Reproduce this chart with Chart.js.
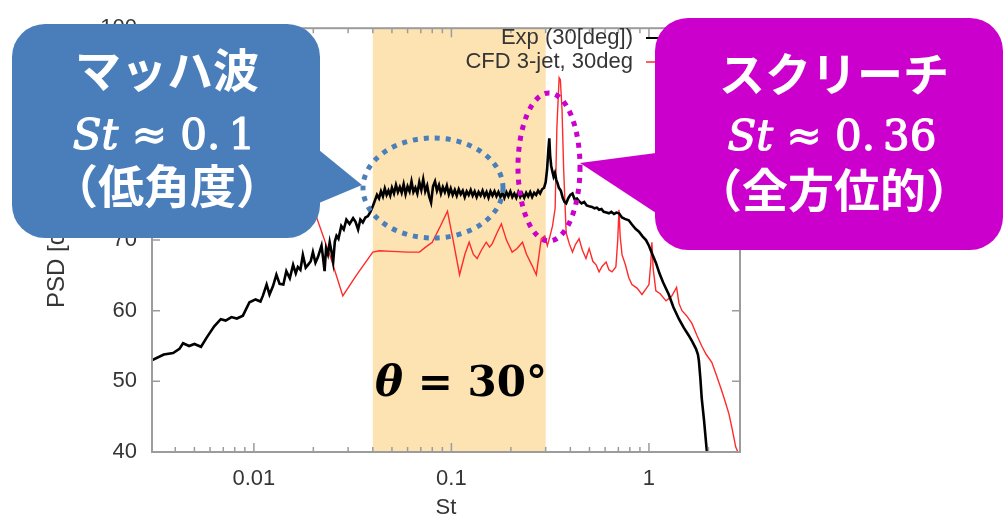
<!DOCTYPE html>
<html><head><meta charset="utf-8">
<script src="https://cdn.jsdelivr.net/npm/chart.js@4.4.1/dist/chart.umd.min.js"></script>
<style>html,body{margin:0;padding:0;background:#fff;}canvas{display:block;}</style>
</head><body>
<canvas id="c" width="1004" height="521"></canvas>
<script>
// ---- data ----
const SERIES_LABELS = ['Exp (30[deg])', 'CFD 3-jet, 30deg'];
const EXP_ST = [0.00306,0.0035,0.0039,0.0042,0.00438,0.0047,0.0050,0.0054,0.0058,0.0063,0.0068,0.0072,0.0077,0.0082,0.0088,0.0095,0.0102,0.0108,0.0111,0.0116,0.0120,0.0125,0.0130,0.0135,0.0141,0.0146,0.0152,0.0158,0.0163,0.0167,0.0172,0.0177,0.0183,0.0188,0.0194,0.0199,0.0205,0.0211,0.0216,0.0220,0.0224,0.0228,0.0232,0.0237,0.0242,0.0247,0.0252,0.0257,0.0262,0.0268,0.0277,0.0285,0.0294,0.0305,0.0318,0.0327,0.0337,0.0346,0.0356,0.0367,0.0378,0.0389,0.0400,
0.0410,0.0420,0.0430,0.0440,0.0450,0.0460,0.0470,0.0480,0.0490,0.0500,0.0512,0.0524,0.0536,0.0548,0.0560,0.0573,0.0586,0.0600,0.0614,0.0628,0.0642,0.0657,0.0672,0.0688,0.0704,0.0720,0.0737,0.0754,0.0771,0.0789,0.0807,0.0826,0.0845,0.0865,0.0885,0.0905,0.0926,0.0948,0.0970,0.0992,0.1015,0.1040,0.1064,0.1089,0.1115,0.1141,0.1168,0.1195,0.1223,0.1252,0.1281,0.1311,0.1342,0.1373,0.1405,0.1438,0.1472,0.1506,0.1541,0.1577,0.1614,0.1652,0.1691,0.1730,0.1771,0.1812,0.1854,0.1898,0.1942,0.1988,0.2034,0.2082,0.2130,0.2180,0.2231,0.2283,0.2337,0.2391,0.2447,0.2505,0.2563,0.2623,0.2685,0.2748,0.2812,0.2878,0.2945,0.3000,
0.3050,0.3100,0.3130,0.3160,0.3200,0.3240,0.3290,0.3340,0.3390,0.3450,0.3500,0.3580,0.3660,0.3740,0.3810,0.3900,0.4000,0.4100,0.4200,0.4320,0.4430,0.4560,0.4700,0.4840,0.4980,0.5150,0.5300,0.5450,0.5590,0.5750,0.5900,0.6100,0.6270,0.6450,0.6650,0.6850,0.7050,0.7300,0.7550,0.7900,0.8200,0.8550,0.8900,0.9300,0.9660,1.0000,1.0400,1.0840,1.1300,1.1800,1.2600,1.3300,1.4200,1.5000,1.5900,1.6600,1.7300,1.7700,1.7900,1.8200,1.8500,1.9000,1.9600,1.9700];
const EXP_PSD = [53.0,53.8,54.0,54.6,55.4,55.0,55.3,54.9,56.3,57.8,58.8,58.6,59.1,58.9,59.3,61.2,61.6,61.3,62.1,63.7,62.3,63.5,65.1,63.8,63.7,65.6,64.6,66.5,65.3,66.2,65.8,67.9,66.1,66.5,67.0,68.3,66.8,67.6,68.5,69.2,67.5,65.6,68.8,68.0,69.7,68.4,66.9,69.8,70.6,70.2,72.0,71.5,72.9,72.3,73.1,72.6,71.5,72.9,72.5,73.2,73.4,74.0,74.8,
75.6,76.4,75.9,76.9,76.2,77.3,76.4,77.0,76.3,77.4,76.6,77.8,76.8,77.5,76.7,77.9,76.5,77.6,76.9,78.3,76.8,77.4,76.6,78.2,77.1,78.6,76.9,77.7,76.2,75.3,77.6,78.3,77.0,77.8,76.6,77.5,76.8,77.7,76.5,77.3,76.4,77.1,76.3,77.2,76.5,77.0,76.1,76.9,76.4,77.1,76.3,76.9,76.1,76.8,76.3,77.0,76.2,76.8,76.0,76.9,76.3,76.9,76.2,76.8,76.1,76.7,76.0,76.8,76.2,76.9,76.1,76.6,76.0,76.8,76.1,76.6,76.0,76.7,76.2,76.8,76.1,76.7,76.4,77.0,76.6,77.2,77.4,78.2,
80.0,83.0,84.4,82.0,80.5,79.8,79.0,79.5,78.6,78.0,77.4,77.0,76.0,75.4,75.2,75.9,76.4,76.6,75.8,75.9,75.5,75.2,75.4,74.9,74.8,74.7,74.5,74.6,74.3,74.4,74.0,73.9,73.8,74.0,73.7,73.9,73.8,73.2,73.0,72.8,72.2,71.6,71.2,70.5,70.0,69.2,68.0,66.8,65.3,64.0,62.3,60.5,58.8,57.6,56.5,55.6,54.6,53.8,52.9,50.5,47.6,44.5,40.3,40.0];
const CFD_ST = [0.0206,0.0245,0.0282,0.0330,0.0400,0.0433,0.0500,0.0600,0.0689,0.0740,0.0800,0.0880,0.0955,0.1020,0.1100,0.1170,0.1230,0.1290,0.1350,0.1420,0.1500,0.1560,0.1610,0.1700,0.1790,0.1900,0.2030,0.2150,0.2290,0.2400,0.2550,0.2690,0.2850,0.2970,0.3060,0.3150,0.3250,0.3350,0.3420,0.3510,0.3560,0.3630,0.3700,0.3810,0.3950,0.4100,0.4250,0.4430,0.4600,0.4800,0.4980,0.5200,0.5400,0.5590,0.5800,0.6070,0.6270,0.6500,0.6800,0.6950,0.7050,0.7150,0.7310,0.7600,0.7900,0.8200,0.8700,0.9220,0.9600,1.0000,1.0200,1.0350,1.0500,1.0840,1.1400,1.2200,1.3000,1.3800,1.4200,1.4700,1.5500,1.6500,1.7500,1.8500,1.9500,2.0800,2.2000,2.3400,2.4400,2.5400,2.6500,2.7500,2.8200];
const CFD_PSD = [73.5,67.5,62.1,65.0,68.3,68.5,68.4,68.3,68.3,69.0,69.7,72.0,74.1,70.0,65.1,68.0,69.7,68.0,67.4,68.6,69.7,69.0,69.5,71.0,72.3,70.0,68.3,68.8,69.7,68.0,66.5,65.1,70.2,70.6,69.2,70.5,72.0,74.5,86.0,93.0,92.7,88.5,80.0,71.0,69.5,68.3,69.4,70.2,68.6,67.4,68.8,67.0,66.5,65.5,66.3,66.9,65.8,65.5,66.2,70.0,74.3,70.5,67.9,66.5,64.7,63.7,63.2,62.3,63.0,63.7,66.5,69.7,66.0,62.8,62.4,61.4,62.0,63.3,61.0,60.0,59.3,58.2,56.5,55.0,53.8,52.7,50.8,48.6,47.0,45.4,43.0,40.7,40.0];
const X_LABEL_TICKS = [0.01, 0.1, 1];
const Y_TICKS = [40, 50, 60, 70, 80, 90, 100];
const BAND = [0.04, 0.3];

const AX_FONT = "'Liberation Sans', Arial, sans-serif";
const TXT = '#353535';
const FRAME = '#9c9c9c';

const pairs = (xs, ys) => xs.map((x, i) => ({x, y: ys[i]}));

const bandPlugin = {
  id: 'band',
  beforeDatasetsDraw(chart) {
    const {ctx, chartArea: a, scales: {x}} = chart;
    const x0 = x.getPixelForValue(BAND[0]), x1 = x.getPixelForValue(BAND[1]);
    ctx.save();
    ctx.fillStyle = 'rgb(253,227,178)';
    ctx.fillRect(x0, a.top, x1 - x0, a.bottom - a.top);
    ctx.restore();
  }
};

const framePlugin = {
  id: 'frame',
  afterDatasetsDraw(chart) {
    const {ctx, chartArea: a, scales: {x, y}} = chart;
    ctx.save();
    ctx.strokeStyle = FRAME;
    ctx.lineWidth = 2;
    ctx.strokeRect(a.left, a.top, a.right - a.left, a.bottom - a.top);
    ctx.lineWidth = 1.5;
    ctx.beginPath();
    Y_TICKS.forEach(v => {
      const py = y.getPixelForValue(v);
      ctx.moveTo(a.left, py); ctx.lineTo(a.left + 8, py);
      ctx.moveTo(a.right, py); ctx.lineTo(a.right - 8, py);
    });
    for (let e = -3; e <= 0; e++) {
      for (let k = 1; k <= 9; k++) {
        const v = k * Math.pow(10, e);
        if (v < x.min || v > x.max) continue;
        const px = x.getPixelForValue(v);
        const len = k === 1 ? 9 : 5;
        ctx.moveTo(px, a.bottom); ctx.lineTo(px, a.bottom - len);
        ctx.moveTo(px, a.top); ctx.lineTo(px, a.top + len);
      }
    }
    ctx.stroke();
    // legend
    ctx.font = '22px ' + AX_FONT;
    ctx.fillStyle = TXT;
    ctx.textAlign = 'right';
    ctx.textBaseline = 'middle';
    const ds = chart.data.datasets;
    [38, 62].forEach((ly, i) => {
      ctx.fillText(ds[i].label, 633, ly);
      ctx.strokeStyle = ds[i].borderColor;
      ctx.lineWidth = i === 0 ? 2 : 1.5;
      ctx.beginPath(); ctx.moveTo(646, ly); ctx.lineTo(700, ly); ctx.stroke();
    });
    // y title
    ctx.save();
    ctx.translate(57, 308);
    ctx.rotate(-Math.PI / 2);
    ctx.textAlign = 'left';
    ctx.font = '24px ' + AX_FONT;
    ctx.fillText('PSD [dB/St]', 0, 0);
    ctx.restore();
    ctx.restore();
  }
};

function roundCallout(ctx, l, t, r, b, rad, tri, color) {
  ctx.fillStyle = color;
  ctx.beginPath();
  ctx.roundRect(l, t, r - l, b - t, rad);
  ctx.fill();
  ctx.beginPath();
  ctx.moveTo(tri[0][0], tri[0][1]);
  ctx.lineTo(tri[1][0], tri[1][1]);
  ctx.lineTo(tri[2][0], tri[2][1]);
  ctx.closePath();
  ctx.fill();
}

function drawMath(ctx, cx, cy, segs, size, thick) {
  const fam = "'DejaVu Serif', serif";
  let total = 0;
  segs.forEach(s => {
    ctx.font = (s.it ? 'italic ' : '') + (s.b ? 'bold ' : '') + size + 'px ' + fam;
    s.w = ctx.measureText(s.t).width;
    total += s.w + (s.gap || 0);
  });
  let x = cx - total / 2;
  ctx.textAlign = 'left';
  ctx.textBaseline = 'middle';
  ctx.strokeStyle = ctx.fillStyle;
  ctx.lineWidth = thick || 0;
  ctx.lineJoin = 'round';
  segs.forEach(s => {
    x += (s.gap || 0);
    ctx.font = (s.it ? 'italic ' : '') + (s.b ? 'bold ' : '') + size + 'px ' + fam;
    ctx.fillText(s.t, x, cy);
    if (thick) ctx.strokeText(s.t, x, cy);
    x += s.w;
  });
}

const notePlugin = {
  id: 'notes',
  afterDraw(chart) {
    const {ctx} = chart;
    ctx.save();
    ctx.lineWidth = 5;
    ctx.setLineDash([5, 6]);
    ctx.strokeStyle = '#4b7fbc';
    ctx.beginPath(); ctx.ellipse(433, 188, 70, 50, 0, 0, Math.PI * 2); ctx.stroke();
    ctx.strokeStyle = '#cc00cc';
    ctx.beginPath(); ctx.ellipse(549, 167, 31, 74, 0, 0, Math.PI * 2); ctx.stroke();
    ctx.setLineDash([]);
    roundCallout(ctx, 12, 24, 320, 238, 33, [[319, 150], [362, 185], [319, 203]], '#4a7ebb');
    roundCallout(ctx, 655, 18, 1003, 250, 33, [[656, 153], [580, 163], [656, 213]], '#cc00cc');
    ctx.fillStyle = '#ffffff';
    ctx.textAlign = 'center';
    ctx.textBaseline = 'middle';
    ctx.font = "bold 46px 'Noto Sans CJK JP', sans-serif";
    ctx.fillText('マッハ波', 167, 70);
    ctx.fillText('（低角度）', 167, 186);
    ctx.fillText('スクリーチ', 834, 74);
    ctx.fillText('（全方位的）', 834, 190);
    drawMath(ctx, 164, 138, [{t: 'St', it: true}, {t: ' ≈ '}, {t: '0.'}, {t: '1', gap: 8}], 42, 1.2);
    ctx.fillStyle = '#ffffff';
    drawMath(ctx, 832, 139, [{t: 'St', it: true}, {t: ' ≈ '}, {t: '0.'}, {t: '36', gap: 8}], 42, 1.2);
    ctx.fillStyle = '#000000';
    drawMath(ctx, 461, 385, [{t: 'θ', it: true, b: true}, {t: ' = 30°', b: true}], 42, 0);
    ctx.restore();
  }
};

new Chart(document.getElementById('c'), {
  type: 'line',
  data: {
    datasets: [
      {label: SERIES_LABELS[0], data: pairs(EXP_ST, EXP_PSD), borderColor: '#000000', borderWidth: 2.6, pointRadius: 0, tension: 0, order: 1},
      {label: SERIES_LABELS[1], data: pairs(CFD_ST, CFD_PSD), borderColor: '#ff2a2a', borderWidth: 1.4, pointRadius: 0, tension: 0, order: 2}
    ]
  },
  options: {
    responsive: false,
    animation: false,
    devicePixelRatio: 1,
    layout: {padding: {left: 0, right: 264, top: 17, bottom: 0}},
    plugins: {legend: {display: false}, tooltip: {enabled: false}},
    scales: {
      x: {
        type: 'logarithmic', min: 0.00305, max: 2.89,
        grid: {display: false, drawTicks: false}, border: {display: false},
        afterBuildTicks: s => { s.ticks = X_LABEL_TICKS.map(v => ({value: v})); },
        afterFit: s => { s.height = 69; },
        ticks: {autoSkip: false, maxRotation: 0, padding: 14, color: TXT, font: {family: AX_FONT, size: 22}, callback: v => String(v)},
        title: {display: true, text: 'St', color: TXT, font: {family: AX_FONT, size: 22}, padding: {top: 0, bottom: 0}}
      },
      y: {
        type: 'linear', min: 40, max: 100,
        grid: {display: false, drawTicks: false}, border: {display: false},
        afterBuildTicks: s => { s.ticks = Y_TICKS.map(v => ({value: v})); },
        afterFit: s => { s.width = 152; },
        ticks: {padding: 15, color: TXT, font: {family: AX_FONT, size: 22}}
      }
    }
  },
  plugins: [bandPlugin, framePlugin, notePlugin]
});
</script>
</body></html>
